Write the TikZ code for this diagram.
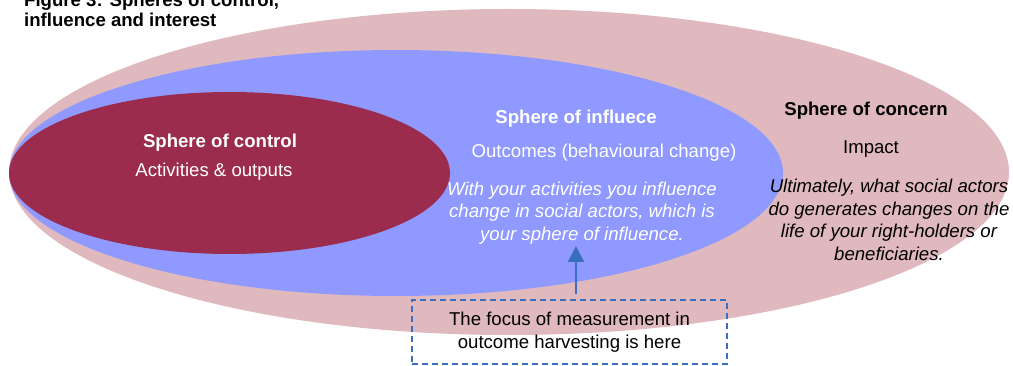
\documentclass[tikz,border=0pt]{standalone}
\usepackage{fontspec}
\setmainfont{Liberation Sans}
\usetikzlibrary{positioning,arrows.meta}
\definecolor{concernpink}{RGB}{224,185,190}
\definecolor{influblue}{RGB}{143,153,255}
\definecolor{controlred}{RGB}{155,44,77}
\definecolor{focusblue}{RGB}{58,111,192}
\tikzset{
  txt/.style={font=\fontsize{18.6}{22.5}\selectfont, inner sep=0pt, align=center},
  head/.style={txt, font=\fontsize{18.6}{22.5}\selectfont\bfseries},
  note/.style={txt, font=\fontsize{18.6}{22.5}\selectfont\itshape},
}
\begin{document}
\begin{tikzpicture}[x=1pt,y=-1pt]
\useasboundingbox (0,0) rectangle (1013,366);
% the three spheres
\fill[concernpink] (509,172) ellipse [x radius=500pt, y radius=163pt];
\fill[influblue] (396,173) ellipse [x radius=387pt, y radius=123pt];
\fill[controlred] (229.5,173) ellipse [x radius=220.5pt, y radius=81pt];
% title
\node[head, align=left, anchor=south west, font=\fontsize{18.6}{20}\selectfont\bfseries] (title) at (24,27) {Figure 3: Spheres of control,\\influence and interest};
% sphere of control
\node[head, text=white] (control) at (220,143) {Sphere of control};
\node[txt, text=white] (outputs) at (214,172) {Activities \& outputs};
% sphere of influence
\node[head, text=white] (influence) at (576,119) {Sphere of influece};
\node[txt, text=white] (outcomes) at (604,153) {Outcomes (behavioural change)};
\node[note, text=white] (infnote) at (582,213) {With your activities you influence\\change in social actors, which is\\your sphere of influence.};
% sphere of concern
\node[head] (concern) at (866,111) {Sphere of concern};
\node[txt] (impact) at (871,149) {Impact};
\node[note] (connote) at (889,220) {Ultimately, what social actors\\do generates changes on the\\life of your right-holders or\\beneficiaries.};
% focus of measurement
\node[txt, draw=focusblue, line width=1.5pt, dash pattern=on 6pt off 4pt,
  minimum width=315pt, minimum height=64pt] (focus) at (569.5,332) {The focus of measurement in\\outcome harvesting is here};
\coordinate (tip) at (576,246);
\draw[focusblue, line width=2pt, -{Triangle[width=16pt,length=16pt]}, shorten <=5pt] (tip |- focus.north) -- (tip);
\end{tikzpicture}
\end{document}
